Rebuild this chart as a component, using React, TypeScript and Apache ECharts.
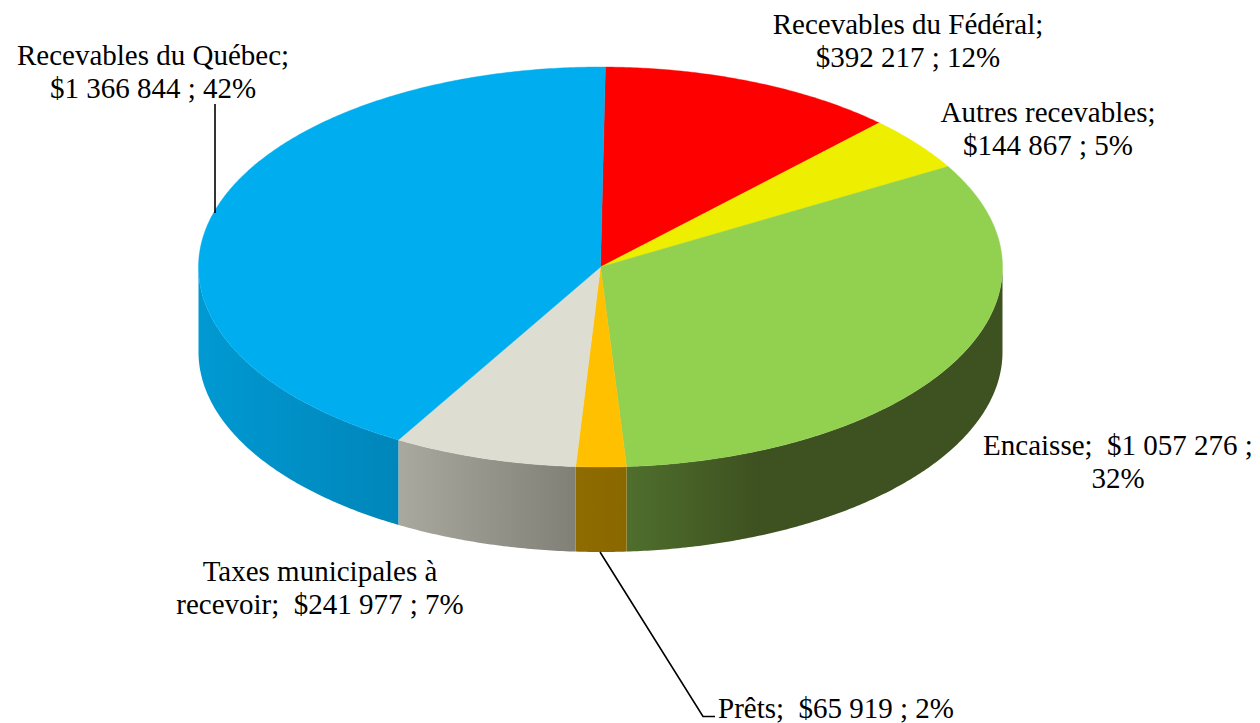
import React, { useEffect, useRef } from "react";
import * as echarts from "echarts";

const categories = ["Recevables du Fédéral", "Autres recevables", "Encaisse", "Prêts", "Taxes municipales à recevoir", "Recevables du Québec"];
const values = [392217, 144867, 1057276, 65919, 241977, 1366844];
const labelLines = [
  ["Recevables du Fédéral;", "$392 217 ; 12%"],
  ["Autres recevables;", "$144 867 ; 5%"],
  ["Encaisse;  $1 057 276 ;", "32%"],
  ["Prêts;  $65 919 ; 2%"],
  ["Taxes municipales à", "recevoir;  $241 977 ; 7%"],
  ["Recevables du Québec;", "$1 366 844 ; 42%"],
];

const topColors = ["#FF0000", "#EEEE00", "#92D050", "#FFC000", "#DDDDD1", "#00ADEF"];
const sideStops: (string[] | null)[] = [
  null,
  null,
  ["#4F6F2D", "#3E5120"],
  ["#8F6C00", "#8A6800"],
  ["#A9A99F", "#808077"],
  ["#0099D2", "#0086BA"],
];
const labelAnchor: number[][] = [
  [908, 24],
  [1048, 112],
  [1118, 445],
  [718, 707.5],
  [320, 571],
  [153, 55],
];
const leaders: number[][][] = [
  [[215, 104], [215, 213]],
  [[600, 552], [703, 716.5], [715, 716.5]],
];

const CX = 600.5;
const CY = 267;
const RX = 402;
const RY = 200;
const DEPTH = 85;
const START = 0.7;
const FONT = 29;
const LINE_H = 33;

const total = values.reduce((a, b) => a + b, 0);
const pt = (deg: number, dy = 0) => {
  const r = (deg * Math.PI) / 180;
  return [CX + RX * Math.sin(r), CY - RY * Math.cos(r) + dy];
};
const arc = (a: number, b: number, dy = 0) => {
  const out: number[][] = [];
  const n = Math.max(2, Math.ceil(Math.abs(b - a) * 2));
  for (let i = 0; i <= n; i++) out.push(pt(a + ((b - a) * i) / n, dy));
  return out;
};

export default function App() {
  const ref = useRef<HTMLDivElement>(null);
  useEffect(() => {
    document.body.style.margin = "0";
    const chart = echarts.init(ref.current!, null, { renderer: "svg" });
    const renderItem = (params: any, api: any) => {
      const i = params.dataIndex;
      let before = 0;
      for (let k = 0; k < i; k++) before += values[k];
      const a0 = START + (before / total) * 360;
      const a1 = a0 + (api.value(0) / total) * 360;
      const children: any[] = [];
      const s0 = Math.max(a0, 90);
      const s1 = Math.min(a1, 270);
      const stops = sideStops[i];
      if (stops && s1 > s0) {
        const top = arc(s0, s1);
        const bottom = arc(s1, s0, DEPTH);
        const x0 = Math.min(pt(s0)[0], pt(s1)[0]);
        const x1 = Math.max(pt(s0)[0], pt(s1)[0]);
        const grad = new echarts.graphic.LinearGradient(
          x0, 0, i === 2 ? x0 + 130 : x1, 0,
          [{ offset: 0, color: stops[0] }, { offset: 1, color: stops[1] }],
          true
        );
        children.push({
          type: "polygon",
          z2: 1,
          shape: { points: [...top, ...bottom] },
          style: { fill: grad },
        });
      }
      children.push({
        type: "polygon",
        z2: 2,
        shape: { points: [[CX, CY], ...arc(a0, a1)] },
        style: { fill: topColors[i], stroke: topColors[i], lineWidth: 0.4 },
      });
      const [ax, ay] = labelAnchor[i];
      labelLines[i].forEach((line, j) => {
        children.push({
          type: "text",
          z2: 5,
          x: ax,
          y: ay + j * LINE_H,
          style: {
            text: line,
            fill: "#000000",
            font: `${FONT}px "Liberation Serif", "Times New Roman", serif`,
            align: i === 3 ? "left" : "center",
            verticalAlign: "middle",
          },
        });
      });
      return { type: "group", children };
    };
    chart.setOption({
      animation: false,
      backgroundColor: "#FFFFFF",
      series: [
        {
          type: "custom",
          coordinateSystem: "none",
          silent: true,
          renderItem,
          data: values.map((v, i) => ({ name: categories[i], value: [v] })),
        },
      ],
      graphic: leaders.map((points) => ({
        type: "polyline",
        z: 10,
        shape: { points },
        style: { stroke: "#000000", lineWidth: 1.6, fill: "none" },
      })),
    });
    return () => chart.dispose();
  }, []);
  return <div ref={ref} style={{ position: "absolute", left: 0, top: 0, width: 1260, height: 723 }} />;
}
